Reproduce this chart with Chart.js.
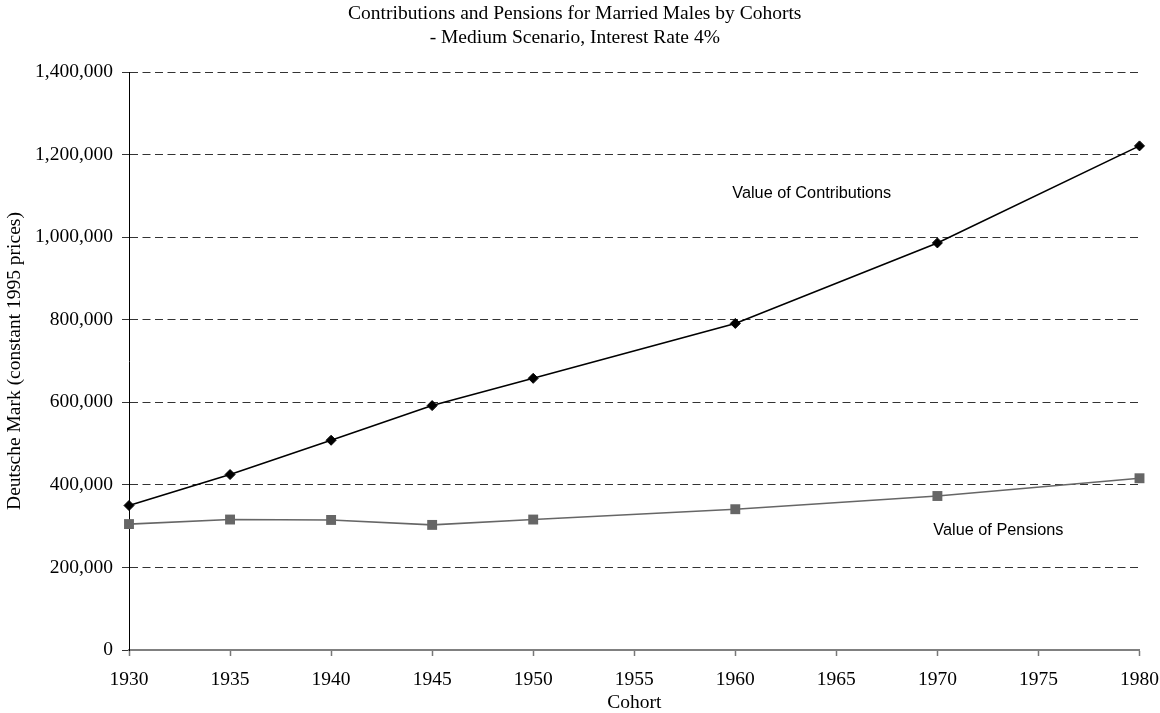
<!DOCTYPE html>
<html>
<head>
<meta charset="utf-8">
<script src="https://cdn.jsdelivr.net/npm/chart.js@4/dist/chart.umd.min.js"></script>
<style>
    html, body { margin: 0; padding: 0; background: #fff; }
    canvas { display: block; }
</style>
</head>
<body>
<canvas id="chart" width="1160" height="713"></canvas>
<script>
// cohorts (x) and the two series
const cohorts = [1930, 1935, 1940, 1945, 1950, 1960, 1970, 1980];
const contributions = [350000, 425000, 508000, 592000, 658000, 791000, 986000, 1221000];
const pensions = [305000, 316000, 315000, 303000, 316000, 341000, 373000, 416000];

const titleLines = ["Contributions and Pensions for Married Males by Cohorts", "- Medium Scenario, Interest Rate 4%"];
const yAxisTitle = "Deutsche Mark (constant 1995 prices)";
const xAxisTitle = "Cohort";

// in-chart labels, placed in data units
const labelTexts = ["Value of Contributions", "Value of Pensions"];
const labelCohorts = [1959.85, 1969.8];
const labelValues = [1106000, 289000];

const serif = "'Liberation Serif', 'Times New Roman', serif";
const sans = "'Liberation Sans', Arial, sans-serif";

const toPoints = (values) => values.map((v, i) => ({ x: cohorts[i], y: v }));

const seriesLabels = {
    id: "seriesLabels",
    afterDatasetsDraw(chart) {
        const { ctx, scales } = chart;
        ctx.save();
        ctx.font = `16.3px ${sans}`;
        ctx.fillStyle = "#000";
        ctx.textAlign = "left";
        ctx.textBaseline = "middle";
        labelTexts.forEach((text, i) => {
            ctx.fillText(text, scales.x.getPixelForValue(labelCohorts[i]), scales.y.getPixelForValue(labelValues[i]));
        });
        ctx.restore();
    },
};

new Chart(document.getElementById("chart"), {
    type: "line",
    data: {
        datasets: [
            {
                label: "Value of Contributions",
                data: toPoints(contributions),
                borderColor: "#000",
                backgroundColor: "#000",
                borderWidth: 1.6,
                pointStyle: "rectRot",
                pointRadius: 5,
                pointBorderWidth: 1,
                tension: 0,
                clip: false,
            },
            {
                label: "Value of Pensions",
                data: toPoints(pensions),
                borderColor: "#666",
                backgroundColor: "#666",
                borderWidth: 1.6,
                pointStyle: "rect",
                pointRadius: 7,
                pointBorderWidth: 0,
                tension: 0,
                clip: false,
            },
        ],
    },
    options: {
        responsive: false,
        animation: false,
        layout: { padding: { left: 10, right: 20.5, top: 0, bottom: 0 } },
        plugins: {
            legend: { display: false },
            tooltip: { enabled: false },
            title: {
                display: true,
                text: titleLines,
                color: "#000",
                font: { family: serif, size: 19.5, weight: "normal", lineHeight: "24px" },
                padding: { top: 1.5, bottom: 22.5 },
            },
        },
        scales: {
            x: {
                type: "linear",
                min: 1930,
                max: 1980,
                afterFit: (scale) => {
                    scale.height = 63;
                    // let the last year label run into the right margin, as in the original
                    scale.paddingRight = 0;
                },
                ticks: {
                    stepSize: 5,
                    padding: 12,
                    color: "#000",
                    font: { family: serif, size: 19.5 },
                    callback: (v) => String(v),
                },
                grid: {
                    drawOnChartArea: false,
                    tickLength: 6,
                    tickColor: "#777",
                    tickWidth: 1.5,
                },
                border: { color: "#808080", width: 2 },
                title: {
                    display: true,
                    text: xAxisTitle,
                    color: "#000",
                    font: { family: serif, size: 19.5, lineHeight: 1 },
                    padding: { top: 0, bottom: 0 },
                },
            },
            y: {
                min: 0,
                max: 1400000,
                afterFit: (scale) => { scale.width = 119; },
                ticks: {
                    stepSize: 200000,
                    padding: 9,
                    color: "#000",
                    font: { family: serif, size: 19.5 },
                    callback: (v) => v.toLocaleString("en-US"),
                },
                grid: {
                    color: (c) => (c.tick && c.tick.value === 0 ? "rgba(0,0,0,0)" : "rgba(0,0,0,0.8)"),
                    lineWidth: 1,
                    tickLength: 7,
                    tickColor: "#333",
                },
                border: { color: "#000", width: 1, dash: [8, 4.5] },
                title: {
                    display: true,
                    text: yAxisTitle,
                    color: "#000",
                    font: { family: serif, size: 19.5, lineHeight: 1 },
                    padding: { top: -5, bottom: 0 },
                },
            },
        },
    },
    plugins: [seriesLabels],
});
</script>
</body>
</html>
